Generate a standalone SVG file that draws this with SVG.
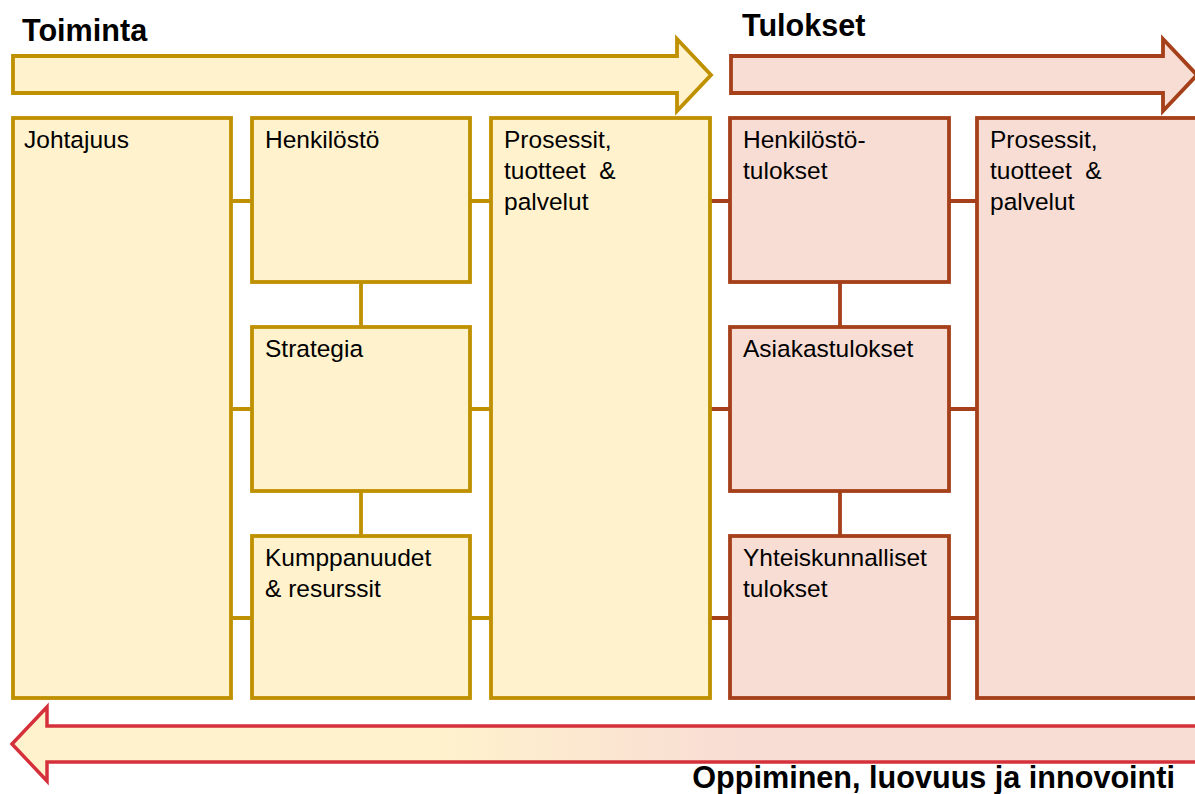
<svg xmlns="http://www.w3.org/2000/svg" width="1195" height="794" viewBox="0 0 1195 794">
  <style>
    .y { fill: #FFF2CC; stroke: #BF9000; stroke-width: 3.8; }
    .r { fill: #F8DDD4; stroke: #A5401B; stroke-width: 3.8; }
    .cy { stroke: #BF9000; stroke-width: 3.8; fill: none; }
    .cr { stroke: #A5401B; stroke-width: 3.8; fill: none; }
    .t { font-family: "Liberation Sans", Arial, sans-serif; font-size: 24.5px; fill: #000; }
    .h { font-family: "Liberation Sans", Arial, sans-serif; font-size: 30.6px; font-weight: bold; fill: #000; }
  </style>
  <defs>
    <linearGradient id="learnFill" gradientUnits="userSpaceOnUse" x1="430" y1="0" x2="740" y2="0">
      <stop offset="0" stop-color="#FFF2CC"/>
      <stop offset="1" stop-color="#F8DDD4"/>
    </linearGradient>
  </defs>

  <rect width="1195" height="794" fill="#FFFFFF"/>

  <!-- headings -->
  <text class="h" x="22" y="41">Toiminta</text>
  <text class="h" x="742" y="36">Tulokset</text>

  <!-- process arrows -->
  <g id="arrow-toiminta">
    <polygon class="y" points="13,56 677,56 677,39 711,75 677,111 677,93 13,93"/>
  </g>
  <g id="arrow-tulokset">
    <polygon class="r" points="731,56 1163,56 1163,39 1197,75 1163,111 1163,93 731,93"/>
  </g>

  <!-- connectors -->
  <g id="connectors">
    <path class="cy" d="M232,201 H252 M232,409 H252 M232,618 H252"/>
    <path class="cy" d="M470,201 H491 M470,409 H491 M470,618 H491"/>
    <path class="cy" d="M361,282 V327 M361,491 V536"/>
    <path class="cr" d="M710,201 H730 M710,409 H730 M710,618 H730"/>
    <path class="cr" d="M949,201 H977 M949,409 H977 M949,618 H977"/>
    <path class="cr" d="M840,282 V327 M840,491 V536"/>
  </g>

  <!-- enablers -->
  <g id="johtajuus">
    <rect class="y" x="13" y="118" width="218" height="580"/>
    <text class="t" x="24" y="148">Johtajuus</text>
  </g>
  <g id="henkilosto">
    <rect class="y" x="252" y="118" width="218" height="164"/>
    <text class="t" x="265" y="148">Henkilöstö</text>
  </g>
  <g id="strategia">
    <rect class="y" x="252" y="327" width="218" height="164"/>
    <text class="t" x="265" y="357">Strategia</text>
  </g>
  <g id="kumppanuudet">
    <rect class="y" x="252" y="536" width="218" height="162"/>
    <text class="t" x="265" y="566">Kumppanuudet</text>
    <text class="t" x="265" y="597">&amp; resurssit</text>
  </g>
  <g id="prosessit">
    <rect class="y" x="491" y="118" width="219" height="580"/>
    <text class="t" x="504" y="148">Prosessit,</text>
    <text class="t" x="504" y="179" xml:space="preserve">tuotteet  &amp;</text>
    <text class="t" x="504" y="210">palvelut</text>
  </g>

  <!-- results -->
  <g id="henkilostotulokset">
    <rect class="r" x="730" y="118" width="219" height="164"/>
    <text class="t" x="743" y="148">Henkilöstö-</text>
    <text class="t" x="743" y="179">tulokset</text>
  </g>
  <g id="asiakastulokset">
    <rect class="r" x="730" y="327" width="219" height="164"/>
    <text class="t" x="743" y="357">Asiakastulokset</text>
  </g>
  <g id="yhteiskunnalliset">
    <rect class="r" x="730" y="536" width="219" height="162"/>
    <text class="t" x="743" y="566">Yhteiskunnalliset</text>
    <text class="t" x="743" y="597">tulokset</text>
  </g>
  <g id="prosessit-tulokset">
    <rect class="r" x="977" y="118" width="230" height="580"/>
    <text class="t" x="990" y="148">Prosessit,</text>
    <text class="t" x="990" y="179" xml:space="preserve">tuotteet  &amp;</text>
    <text class="t" x="990" y="210">palvelut</text>
  </g>

  <!-- learning feedback arrow -->
  <g id="arrow-oppiminen">
    <polygon points="1210,726 47,726 47,707 12,744 47,781 47,762 1210,762" fill="url(#learnFill)" stroke="#D5313B" stroke-width="3.5" stroke-linejoin="miter"/>
  </g>
  <text class="h" x="1175" y="788" text-anchor="end">Oppiminen, luovuus ja innovointi</text>
</svg>
